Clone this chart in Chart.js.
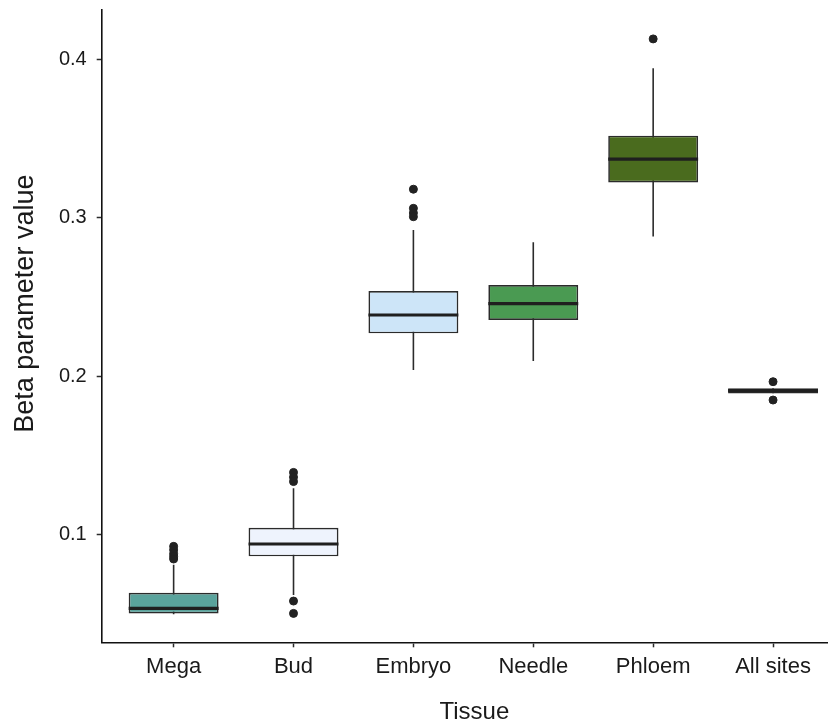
<!DOCTYPE html>
<html>
<head>
<meta charset="utf-8">
<title>Beta parameter value by tissue</title>
<script src="https://cdn.jsdelivr.net/npm/chart.js@4/dist/chart.umd.min.js"></script>
<style>
  html, body { margin: 0; padding: 0; background: #fff; overflow: hidden; }
  canvas { display: block; }
</style>
</head>
<body>
<canvas id="boxChart" width="832" height="724"></canvas>
<script>
// values
const CATEGORIES = ['Mega', 'Bud', 'Embryo', 'Needle', 'Phloem', 'All sites'];
const WHISKER_LOW = [0.0492, 0.0614, 0.2038, 0.2095, 0.2882, 0.1891];
const Q1 = [0.0498, 0.0859, 0.2270, 0.2354, 0.3224, 0.1890];
const MEDIAN = [0.0530, 0.0937, 0.2386, 0.2458, 0.3373, 0.1907];
const Q3 = [0.0629, 0.1040, 0.2538, 0.2576, 0.3521, 0.1923];
const WHISKER_HIGH = [0.0805, 0.1289, 0.2924, 0.2846, 0.3947, 0.1922];
const OUTLIERS = [
    [0.0922, 0.0900, 0.0876, 0.0858, 0.0842],
    [0.1390, 0.1360, 0.1332, 0.0576, 0.0498],
    [0.3182, 0.3061, 0.3032, 0.3008],
    [],
    [0.4133],
    [0.1964, 0.1848]
];
const Y_TICKS = [0.1, 0.2, 0.3, 0.4];
const FILLS = ['#5aa39c', '#eef3fd', '#cde5f8', '#4a9a52', '#4a6b1e', '#2b2b2b'];

const BOX_W = 0.75;
const INK = '#2b2b2b';
const FONT = "'Liberation Sans', Arial, sans-serif";

const ctx = document.getElementById('boxChart').getContext('2d');

// whiskers and medians are segments separated by gap points
const whiskerPts = CATEGORIES.flatMap((c, i) => [
    { x: i, y: WHISKER_LOW[i] }, { x: i, y: WHISKER_HIGH[i] }, { x: i, y: null }
]);
const medianPts = CATEGORIES.flatMap((c, i) => [
    { x: i - BOX_W / 2, y: MEDIAN[i] }, { x: i + BOX_W / 2, y: MEDIAN[i] }, { x: i, y: null }
]);
const outlierPts = OUTLIERS.flatMap((vals, i) => vals.map(v => ({ x: i, y: v })));

const chart = new Chart(ctx, {
    data: {
        datasets: [
            {
                type: 'line',
                data: whiskerPts,
                borderColor: INK,
                borderWidth: 1.6,
                pointRadius: 0,
                spanGaps: false,
                order: 3
            },
            {
                type: 'bar',
                data: CATEGORIES.map((c, i) => ({ x: i, y: [Q1[i], Q3[i]] })),
                backgroundColor: FILLS,
                borderColor: INK,
                borderWidth: 1.7,
                borderSkipped: false,
                categoryPercentage: 1,
                barPercentage: BOX_W,
                order: 2
            },
            {
                type: 'line',
                data: medianPts,
                borderColor: '#1f1f1f',
                borderWidth: 3.2,
                borderCapStyle: 'butt',
                pointRadius: 0,
                spanGaps: false,
                order: 1
            },
            {
                type: 'scatter',
                data: outlierPts,
                backgroundColor: '#222',
                borderColor: '#222',
                pointRadius: 4,
                order: 0
            }
        ]
    },
    options: {
        responsive: false,
        animation: false,
        layout: { padding: { top: 10, right: 0, bottom: 0, left: 0 } },
        plugins: { legend: { display: false }, tooltip: { enabled: false } },
        scales: {
            x: {
                type: 'linear',
                min: -0.6,
                max: 5.45,
                offset: false,
                afterBuildTicks: (scale) => { scale.ticks = CATEGORIES.map((c, i) => ({ value: i })); },
                afterFit: (scale) => {
                    scale.height = 81.7;
                    scale.paddingLeft = 0;
                    scale.paddingRight = 0;
                },
                grid: { offset: false, drawOnChartArea: false, drawTicks: true, tickLength: 5, tickWidth: 1.5, color: INK },
                border: { display: true, color: '#111', width: 1.6 },
                ticks: {
                    padding: 6,
                    color: '#1a1a1a',
                    font: { family: FONT, size: 22 },
                    callback: (v) => CATEGORIES[v] || ''
                },
                title: {
                    display: true,
                    // the reference panel runs past the right edge, so its title sits a bit further right
                    text: '   Tissue',
                    color: '#1a1a1a',
                    font: { family: FONT, size: 24, lineHeight: 1 },
                    padding: { top: 0, bottom: 0 }
                }
            },
            y: {
                type: 'linear',
                min: 0.0315,
                max: 0.4316,
                afterBuildTicks: (scale) => { scale.ticks = Y_TICKS.map(v => ({ value: v })); },
                afterFit: (scale) => {
                    scale.width = 101.7;
                    scale.paddingTop = 0;
                    scale.paddingBottom = 0;
                },
                grid: { drawOnChartArea: false, drawTicks: true, tickLength: 5, tickWidth: 1.5, color: INK },
                border: { display: true, color: '#111', width: 1.6 },
                ticks: {
                    padding: 10,
                    color: '#1a1a1a',
                    font: { family: FONT, size: 20 },
                    callback: (v) => v.toFixed(1)
                },
                title: {
                    display: true,
                    // leading spaces nudge the centred title upward, as in the reference
                    text: '      Beta parameter value',
                    color: '#1a1a1a',
                    font: { family: FONT, size: 27, lineHeight: 1 },
                    padding: { top: 12, bottom: 0 }
                }
            }
        }
    }
});
</script>
</body>
</html>
